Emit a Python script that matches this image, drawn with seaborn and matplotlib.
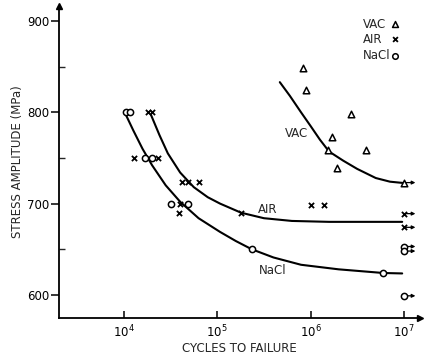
import numpy as np
import pandas as pd
import matplotlib
matplotlib.use("Agg")
import matplotlib.pyplot as plt
import seaborn as sns

# ---------------- data ----------------
vac_cycles = [8.3e5, 9.0e5, 2.7e6, 1.7e6, 1.55e6, 3.9e6, 1.9e6, 1.0e7]
vac_stress = [848, 824, 798, 773, 759, 759, 739, 723]
vac_runout = [False, False, False, False, False, False, False, True]

air_cycles = [1.29e4, 1.8e4, 2.0e4, 2.3e4, 4.2e4, 4.8e4, 6.3e4, 4.0e4, 3.9e4,
              1.8e5, 1.0e6, 1.4e6, 1.0e7, 1.0e7]
air_stress = [750, 800, 800, 750, 724, 724, 724, 700, 690,
              690, 699, 699, 689, 674]
air_runout = [False] * 12 + [True, True]

nacl_cycles = [1.05e4, 1.15e4, 1.7e4, 2.0e4, 3.2e4, 4.9e4, 2.37e5, 6.0e6,
               1.0e7, 1.0e7, 1.0e7]
nacl_stress = [800, 800, 750, 750, 700, 700, 650, 624, 653, 648, 599]
nacl_runout = [False] * 8 + [True, True, True]

# hand-drawn fit curves
vac_curve_cycles = [4.68e5, 6.0e5, 7.9e5, 1.0e6, 1.26e6, 1.58e6, 2.24e6,
                    3.16e6, 5.0e6, 7.1e6, 1.0e7]
vac_curve_stress = [833, 818, 800, 785, 770, 757, 747, 738, 728, 724, 722.5]

air_curve_cycles = [1.95e4, 2.4e4, 2.95e4, 4.0e4, 5.6e4, 7.9e4, 1.07e5,
                    1.8e5, 3.16e5, 6.3e5, 1.58e6, 9.6e6]
air_curve_stress = [797, 775, 755, 734, 718, 707, 700, 690, 684, 681, 680, 680]

nacl_curve_cycles = [1.05e4, 1.26e4, 1.58e4, 2.0e4, 2.8e4, 4.0e4, 6.3e4,
                     1.07e5, 1.58e5, 2.34e5, 4.0e5, 7.9e5, 2.0e6, 6.0e6, 9.6e6]
nacl_curve_stress = [797, 780, 760, 742, 720, 702, 684, 669, 659, 650, 641,
                     633, 628, 624, 623.5]

env_labels = ["VAC", "AIR", "NaCl"]
x_ticks = [1e4, 1e5, 1e6, 1e7]
x_tick_labels = ["$10^4$", "$10^5$", "$10^6$", "$10^7$"]
y_ticks = [600, 700, 800, 900]
y_minor = [650, 750, 850]

# ---------------- build tables ----------------
points = pd.concat([
    pd.DataFrame({"cycles": vac_cycles, "stress": vac_stress, "runout": vac_runout, "env": "VAC"}),
    pd.DataFrame({"cycles": air_cycles, "stress": air_stress, "runout": air_runout, "env": "AIR"}),
    pd.DataFrame({"cycles": nacl_cycles, "stress": nacl_stress, "runout": nacl_runout, "env": "NaCl"}),
], ignore_index=True)

curves = pd.concat([
    pd.DataFrame({"cycles": vac_curve_cycles, "stress": vac_curve_stress, "env": "VAC"}),
    pd.DataFrame({"cycles": air_curve_cycles, "stress": air_curve_stress, "env": "AIR"}),
    pd.DataFrame({"cycles": nacl_curve_cycles, "stress": nacl_curve_stress, "env": "NaCl"}),
], ignore_index=True)

# ---------------- plot ----------------
sns.set_style("white")
plt.rcParams["font.family"] = ["DejaVu Sans"]
plt.rcParams["mathtext.default"] = "regular"

fig = plt.figure(figsize=(4.31, 3.59), dpi=100)
ax = fig.add_axes([59 / 431, 41 / 359, 361 / 431, 312 / 359])
ax.set_xscale("log")

for env in env_labels:
    sub = curves[curves.env == env]
    sns.lineplot(data=sub, x="cycles", y="stress", ax=ax, color="black",
                 lw=1.5, sort=False, estimator=None, legend=False)

marker_style = {
    "VAC": dict(marker="^", s=22, facecolor="white", edgecolor="black", linewidth=1.1),
    "AIR": dict(marker="x", s=14, color="black", linewidth=1.3),
    "NaCl": dict(marker="o", s=20, facecolor="white", edgecolor="black", linewidth=1.1),
}
for env in env_labels:
    sub = points[points.env == env]
    sns.scatterplot(data=sub, x="cycles", y="stress", ax=ax, legend=False,
                    zorder=5, **marker_style[env])
    for _, r in sub[sub.runout].iterrows():
        ax.annotate("", xy=(r.cycles * 1.33, r.stress),
                    xytext=(r.cycles * 1.06, r.stress),
                    arrowprops=dict(arrowstyle="-|>", color="black", lw=0.9,
                                    mutation_scale=5, shrinkA=0, shrinkB=0))

ax.set_xlim(2010, 1.49e7)
ax.set_ylim(574.7, 916.4)

# axes look
for s in ["top", "right"]:
    ax.spines[s].set_visible(False)
for s in ["left", "bottom"]:
    ax.spines[s].set_color("black")
    ax.spines[s].set_linewidth(1.3)
ax.plot(1.0, 0, ">", color="black", ms=5, transform=ax.transAxes, clip_on=False)
ax.plot(0, 1.0, "^", color="black", ms=5, transform=ax.transAxes, clip_on=False)

ax.set_xticks(x_ticks)
ax.set_xticklabels(x_tick_labels, fontsize=8.5)
ax.xaxis.set_minor_locator(matplotlib.ticker.NullLocator())
ax.tick_params(axis="x", which="major", direction="in", length=5, width=1.1,
               pad=4, bottom=True, colors="black")

ax.set_yticks(y_ticks)
ax.set_yticklabels([str(v) for v in y_ticks], fontsize=8.5)
ax.set_yticks(y_minor, minor=True)
ax.tick_params(axis="y", which="major", direction="out", length=6, width=1.1,
               pad=1, left=True, colors="black")
ax.tick_params(axis="y", which="minor", direction="in", length=4, width=1.0, left=True)

ax.set_xlabel("CYCLES TO FAILURE", fontsize=8.5, labelpad=1)
ax.yaxis.set_label_coords(-35 / 361, 0.5)
ax.set_ylabel("STRESS AMPLITUDE (MPa)", fontsize=8.5)

# curve labels
ax.text(7.0e5, 777, "VAC", fontsize=8.5, ha="center", va="center")
ax.text(3.5e5, 694, "AIR", fontsize=8.5, ha="center", va="center")
ax.text(3.9e5, 627, "NaCl", fontsize=8.5, ha="center", va="center")

# legend (label text left-aligned, symbol to the right)
leg_y = [0.942, 0.894, 0.840]
leg_marker = {
    "VAC": dict(marker="^", s=18, facecolor="white", edgecolor="black", linewidth=1.1),
    "AIR": dict(marker="x", s=12, color="black", linewidth=1.3),
    "NaCl": dict(marker="o", s=16, facecolor="white", edgecolor="black", linewidth=1.1),
}
for lab, yy in zip(env_labels, leg_y):
    ax.text(0.842, yy, lab, fontsize=8.5, ha="left", va="center", transform=ax.transAxes)
    ax.scatter([0.931], [yy], transform=ax.transAxes, clip_on=False, **leg_marker[lab])

fig.savefig("out.png", dpi=100)
